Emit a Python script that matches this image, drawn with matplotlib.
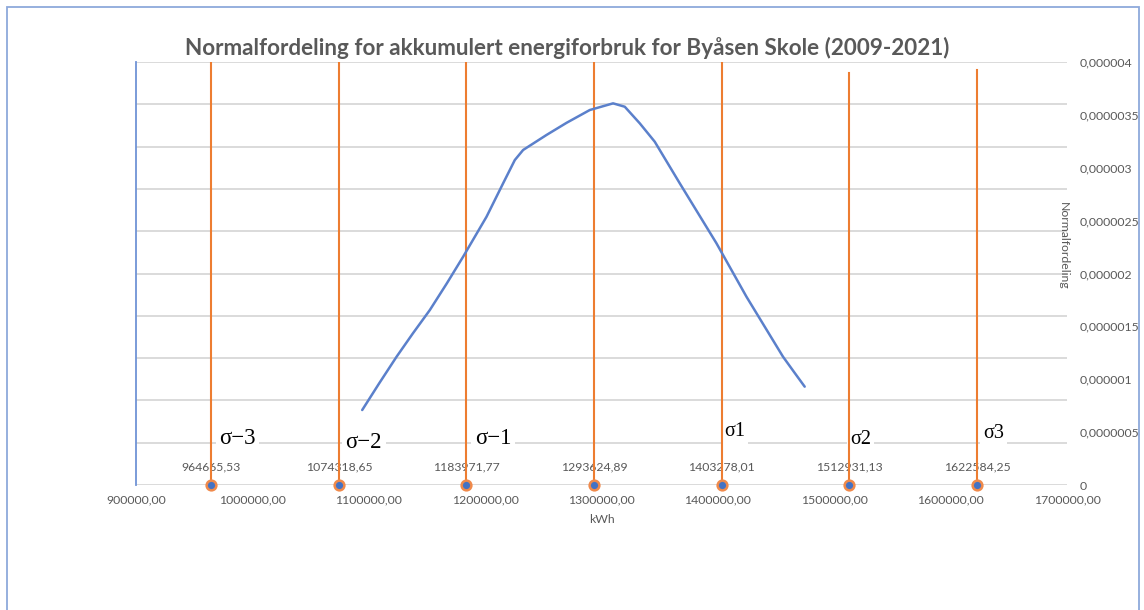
import matplotlib
matplotlib.use("Agg")
import matplotlib.pyplot as plt
from matplotlib.ticker import FuncFormatter, MultipleLocator
from matplotlib.patches import Rectangle

# ---------------- data ----------------
curve_kwh = [1094370, 1109000, 1123910, 1138000, 1152520, 1167000, 1181120,
             1201220, 1215470, 1225520, 1232650, 1252750, 1270000, 1289940,
             1309950, 1320000, 1332890, 1345770, 1367240, 1398770, 1424530,
             1455970, 1466000, 1474600]
curve_pdf = [7.09e-7, 9.62e-7, 1.213e-6, 1.435e-6, 1.655e-6, 1.905e-6, 2.159e-6,
             2.537e-6, 2.853e-6, 3.073e-6, 3.168e-6, 3.310e-6, 3.425e-6, 3.546e-6,
             3.609e-6, 3.577e-6, 3.420e-6, 3.246e-6, 2.853e-6, 2.286e-6, 1.781e-6,
             1.213e-6, 1.060e-6, 9.30e-7]

sigma_values = [964665.53, 1074318.65, 1183971.77, 1293624.89,
                1403278.01, 1512931.13, 1622584.25]
sigma_line_top = [4.0e-6, 4.0e-6, 4.0e-6, 4.0e-6, 4.0e-6, 3.9e-6, 3.92e-6]
sigma_names = ["σ−3", "σ−2", "σ−1", None, "σ1", "σ2", "σ3"]

x_ticks = [900000, 1000000, 1100000, 1200000, 1300000, 1400000,
           1500000, 1600000, 1700000]
title = "Normalfordeling for akkumulert energiforbruk for Byåsen Skole (2009-2021)"
x_label = "kWh"
y_label = "Normalfordeling"

# ---------------- layout/style ----------------
W, H, DPI = 1144, 610, 100
GRAY = "#595959"
BLUE = "#5B80CB"
ORANGE = "#ED7D31"
SANS = ["Lato", "DejaVu Sans"]
SERIF = ["Liberation Serif", "DejaVu Serif"]
sig_off = [(26, 46), (25, 43), (26.5, 47), None, (13, 54), (11, 46), (17, 52)]
sig_size = [16.5, 16.5, 16.5, None, 14.5, 14.5, 14.5]

fig = plt.figure(figsize=(W / DPI, H / DPI), dpi=DPI)
fig.patch.set_facecolor("white")

L, R, T, B = 136, 1067, 62, 485
ax = fig.add_axes([L / W, 1 - B / H, (R - L) / W, (B - T) / H])
ax2 = ax.twinx()

ax.set_xlim(x_ticks[0], x_ticks[-1])
ax.set_ylim(0, 10)
ax.yaxis.set_major_locator(MultipleLocator(1))
ax.grid(axis="y", color="#D4D4D4", lw=1.2)
ax.set_axisbelow(True)
ax.tick_params(axis="y", left=False, right=False, labelleft=False, labelright=False)
ax.set_xticks(x_ticks)
ax.xaxis.set_major_formatter(FuncFormatter(lambda v, p: f"{v:.2f}".replace(".", ",")))
ax.tick_params(axis="x", length=0, pad=7, labelsize=8.8, labelcolor=GRAY)
for lab in ax.get_xticklabels():
    lab.set_family(SANS)
for s in ["top", "right", "bottom"]:
    ax.spines[s].set_visible(False)
ax.spines["left"].set_color("#6F93D6")
ax.spines["left"].set_linewidth(1.3)
ax.set_xlabel(x_label, fontsize=8.8, color=GRAY, family=SANS, labelpad=6)

ax2.set_ylim(0, 4e-6)
ax2.yaxis.set_major_locator(MultipleLocator(5e-7))


def yfmt(v, p):
    if abs(v) < 1e-12:
        return "0"
    s = f"{v:.7f}".rstrip("0")
    return s.replace(".", ",")


ax2.yaxis.set_major_formatter(FuncFormatter(yfmt))
ax2.tick_params(axis="y", length=0, pad=9, labelsize=8.8, labelcolor=GRAY)
for lab in ax2.get_yticklabels():
    lab.set_family(SANS)
for s in ax2.spines.values():
    s.set_visible(False)

# curve
ax2.plot(curve_kwh, curve_pdf, color=BLUE, lw=1.8, solid_capstyle="round",
         solid_joinstyle="round", zorder=3)

# sigma lines, markers, labels
for i, v in enumerate(sigma_values):
    ax2.plot([v, v], [0, sigma_line_top[i]], color=ORANGE, lw=1.5, zorder=2)
    ax2.plot([v], [0], marker="o", ms=7, mfc="#4472C4", mec="#F08A4B",
             mew=1.8, zorder=5, clip_on=False)
    ax2.annotate(f"{v:.2f}".replace(".", ","), xy=(v, 0),
                 xytext=(0, 18 * 0.72), textcoords="offset points",
                 ha="center", va="center", fontsize=8.8, color=GRAY,
                 family=SANS, zorder=1.6)
    if sigma_names[i]:
        dx, dy = sig_off[i]
        ax2.annotate(sigma_names[i], xy=(v, 0),
                     xytext=(dx * 0.72, dy * 0.72), textcoords="offset points",
                     ha="center", va="center", fontsize=sig_size[i],
                     color="black", family=SERIF, zorder=1.5,
                     bbox=dict(boxstyle="square,pad=0.15", fc="white", ec="none"))

fig.text(567 / W, 1 - 48 / H, title, ha="center", va="center",
         fontsize=16.2, fontweight="bold", color=GRAY, family=SANS)
fig.text(1063 / W, 1 - 246 / H, y_label, ha="center", va="center",
         rotation=270, fontsize=8.8, color=GRAY, family=SANS)

fig.patches.append(Rectangle((7 / W, -0.01), (1139 - 7) / W, 1 - 7 / H + 0.01,
                             transform=fig.transFigure, fill=False,
                             ec="#8EA9DB", lw=1.3))

fig.savefig("out.png", dpi=DPI, facecolor="white")
